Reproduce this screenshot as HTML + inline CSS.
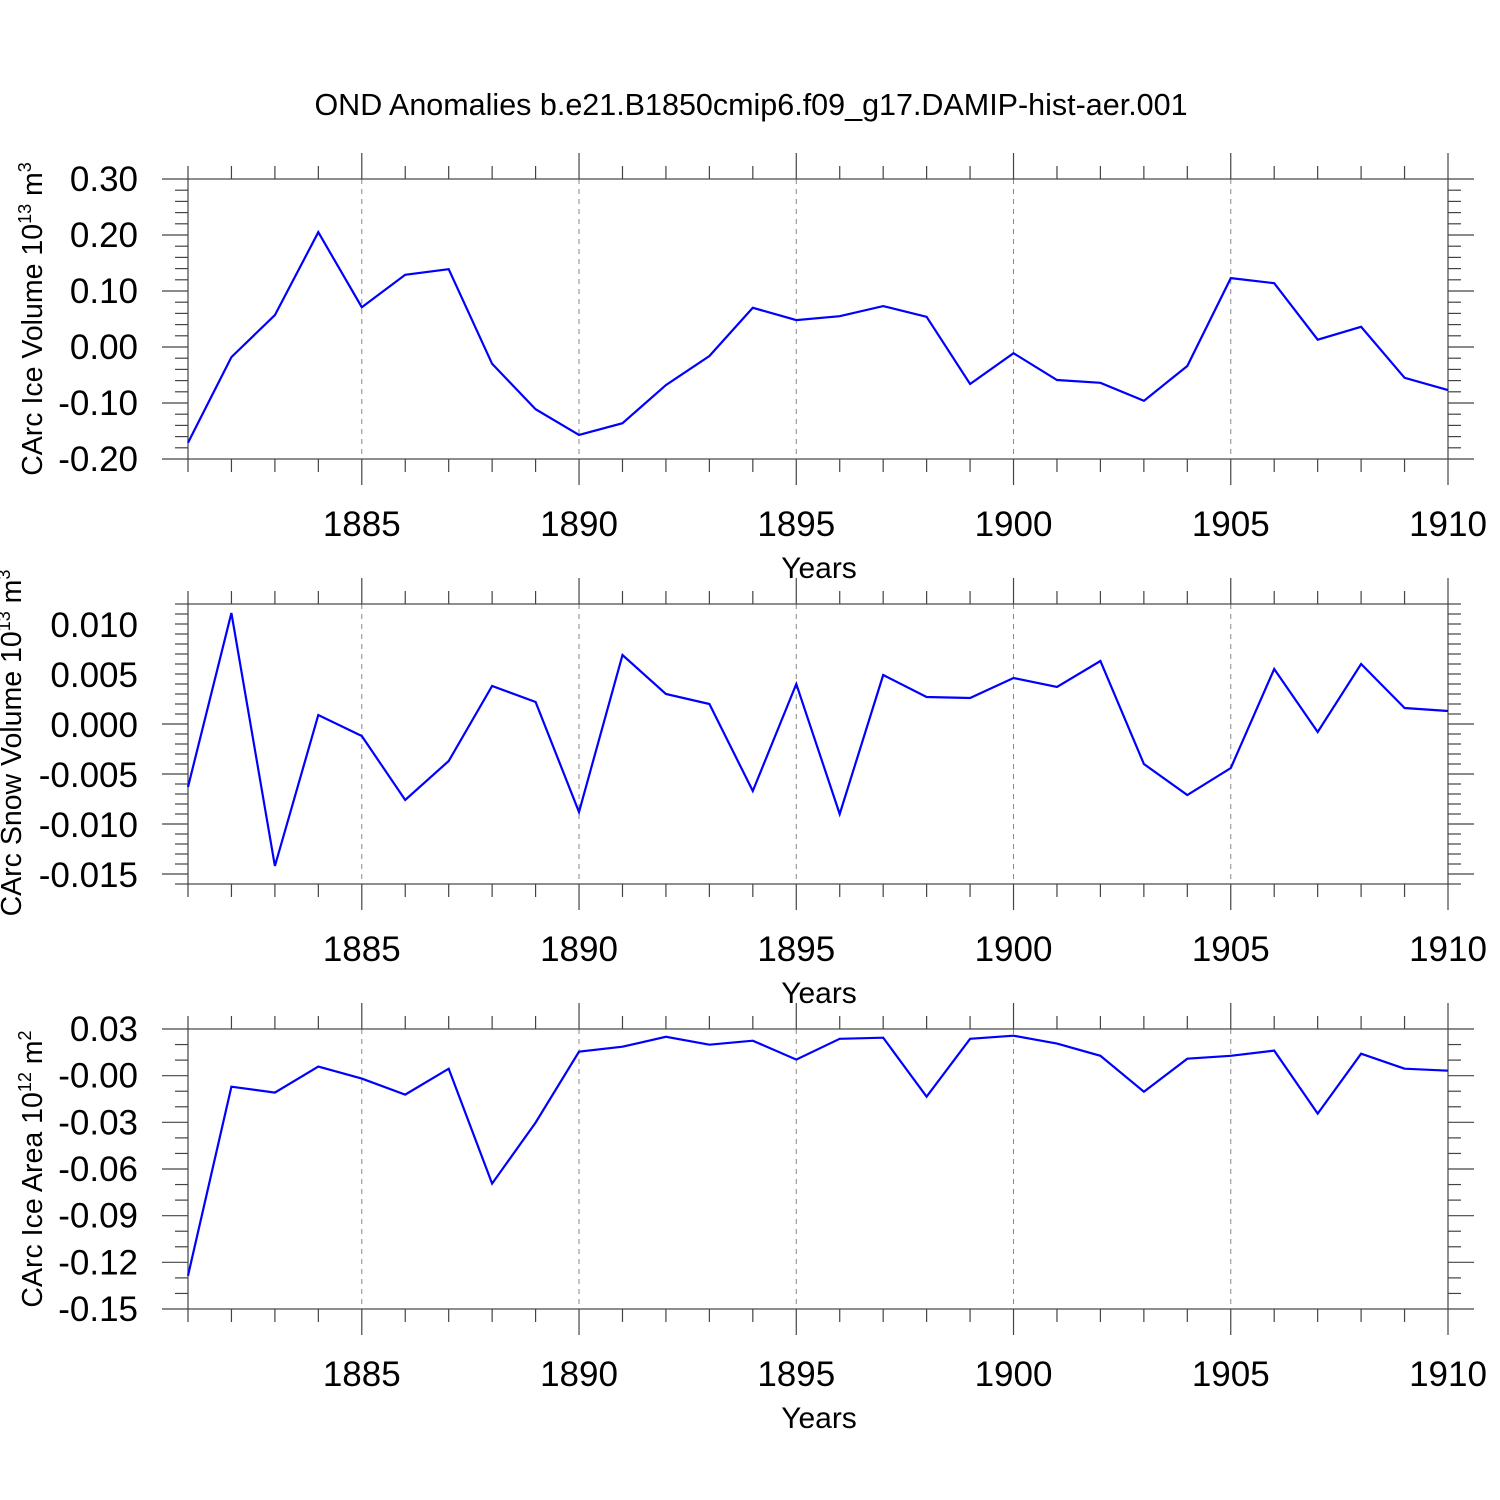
<!DOCTYPE html>
<html><head><meta charset="utf-8"><style>
body{margin:0;background:#fff}
svg{display:block;font-family:"Liberation Sans",sans-serif}
</style></head><body>
<svg id="c" width="1500" height="1500" viewBox="0 0 1500 1500" xmlns="http://www.w3.org/2000/svg">
<text x="751" y="115" font-size="30.5" text-anchor="middle">OND Anomalies b.e21.B1850cmip6.f09_g17.DAMIP-hist-aer.001</text>
</svg>
<script>
const years=[1881,1882,1883,1884,1885,1886,1887,1888,1889,1890,1891,1892,1893,1894,1895,1896,1897,1898,1899,1900,1901,1902,1903,1904,1905,1906,1907,1908,1909,1910];
const xTicks=[1885,1890,1895,1900,1905,1910];
const iceVol=[-0.171,-0.018,0.057,0.205,0.071,0.129,0.139,-0.030,-0.111,-0.157,-0.136,-0.068,-0.016,0.070,0.048,0.055,0.073,0.054,-0.066,-0.011,-0.059,-0.064,-0.096,-0.034,0.123,0.114,0.013,0.036,-0.055,-0.077];
const snowVol=[-0.0062,0.0112,-0.0141,0.0010,-0.0011,-0.0075,-0.0036,0.0039,0.0023,-0.0087,0.0070,0.0031,0.0021,-0.0066,0.0041,-0.0089,0.0050,0.0028,0.0027,0.0047,0.0038,0.0064,-0.0039,-0.0070,-0.0043,0.0056,-0.0007,0.0061,0.0017,0.0014];
const iceArea=[-0.1286,-0.0071,-0.0109,0.0058,-0.0019,-0.0122,0.0045,-0.0694,-0.0302,0.0154,0.0186,0.0250,0.0199,0.0225,0.0103,0.0237,0.0244,-0.0135,0.0237,0.0257,0.0206,0.0128,-0.0103,0.0109,0.0128,0.0161,-0.0244,0.0141,0.0045,0.0032];
const yTicks1=["0.30","0.20","0.10","0.00","-0.10","-0.20"];
const yTicks2=["0.010","0.005","0.000","-0.005","-0.010","-0.015"];
const yTicks3=["0.03","-0.00","-0.03","-0.06","-0.09","-0.12","-0.15"];
const NS='http://www.w3.org/2000/svg';
const svg=document.getElementById('c');
const X0=188,X1=1448;
function xs(y){return X0+(y-1881)/(1910-1881)*(X1-X0);}
function mk(t,a,p){const e=document.createElementNS(NS,t);for(const k in a)e.setAttribute(k,a[k]);(p||svg).appendChild(e);return e;}
function panel(top,bot,ymin,ymax,majVals,majLabels,minStep,data,ylab,sup,unit,pname,tx0){
  const g=mk('g',{});
  
  
  const ys=v=>bot-(v-ymin)/(ymax-ymin)*(bot-top);
  xTicks.forEach(t=>{if(t<1910){const l=mk('line',{x1:xs(t),x2:xs(t),y1:top,y2:bot,stroke:'#888','stroke-width':1,'stroke-dasharray':'5,5'},g);
    }});
  const f=mk('rect',{x:X0,y:top,width:X1-X0,height:bot-top,fill:'none',stroke:'#444','stroke-width':1.2},g);
  
  years.forEach(y=>{const maj=xTicks.includes(y);const L=maj?26:13;const x=xs(y);
    mk('line',{x1:x,x2:x,y1:top,y2:top-L,stroke:'#444','stroke-width':1.2},g);
    mk('line',{x1:x,x2:x,y1:bot,y2:bot+L,stroke:'#444','stroke-width':1.2},g);});
  xTicks.forEach(t=>{const tx=mk('text',{x:xs(t),y:bot+77,'font-size':35,'text-anchor':'middle'},g);tx.textContent=t;
    });
  const xt=mk('text',{x:819,y:bot+119,'font-size':30,'text-anchor':'middle'},g);xt.textContent='Years';
  
  const n=Math.round((ymax-ymin)/minStep);
  for(let i=0;i<=n;i++){const v=ymin+i*minStep;const y=ys(v);
    const maj=majVals.some(m=>Math.abs(m-v)<minStep/10);const L=maj?26:13;
    mk('line',{x1:X0,x2:X0-L,y1:y,y2:y,stroke:'#444','stroke-width':1.2},g);
    mk('line',{x1:X1,x2:X1+L,y1:y,y2:y,stroke:'#444','stroke-width':1.2},g);}
  majVals.forEach((m,i)=>{const tx=mk('text',{x:138,y:ys(m)+12,'font-size':35,'text-anchor':'end'},g);tx.textContent=majLabels[i];
    });
  const cy=(top+bot)/2;
  const yt=mk('text',{x:0,y:0,'font-size':28.5,'text-anchor':'middle',transform:`translate(${tx0},${cy}) rotate(-90)`},g);
  yt.innerHTML=`${ylab} 10<tspan dy="-11" font-size="18">${sup}</tspan><tspan dy="11"> ${unit}</tspan><tspan dy="-11" font-size="18">2</tspan>`;
  
  const pts=years.map((y,i)=>xs(y).toFixed(1)+','+ys(data[i]).toFixed(1)).join(' ');
  const pl=mk('polyline',{points:pts,fill:'none',stroke:'#0000ff','stroke-width':2.2,'stroke-linejoin':'miter'},g);
  
  return yt;
}
const t1=panel(179,459,-0.20,0.30,[0.30,0.20,0.10,0.00,-0.10,-0.20],yTicks1,0.02,iceVol,'CArc Ice Volume','13','m','ice-volume-panel',42);
t1.lastChild.textContent='3';
const t2=panel(604,884,-0.0159,0.0121,[0.010,0.005,0,-0.005,-0.010,-0.015],yTicks2,0.001,snowVol,'CArc Snow Volume','13','m','snow-volume-panel',21);
t2.lastChild.textContent='3';
t2.setAttribute('transform','translate(21,743) rotate(-90)');
const t3=panel(1029,1309,-0.15,0.03,[0.03,0,-0.03,-0.06,-0.09,-0.12,-0.15],yTicks3,0.01,iceArea,'CArc Ice Area','12','m','ice-area-panel',42);
</script>
</body></html>
